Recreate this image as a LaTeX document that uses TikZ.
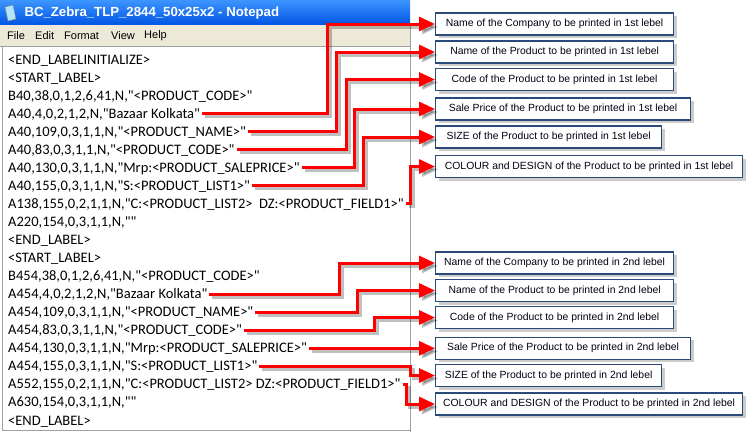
\documentclass[tikz,border=0pt]{standalone}
\usepackage{fontspec}
\setmainfont{Liberation Sans}
\newfontfamily\padfont{Carlito}
\usetikzlibrary{arrows.meta,shadows}
\definecolor{xpblue}{HTML}{0054E3}
\definecolor{xplight}{HTML}{3D95FF}
\definecolor{menubeige}{HTML}{ECE9D8}
\definecolor{framegray}{HTML}{A0A0A0}
\definecolor{boxblue}{HTML}{2A4A78}
\definecolor{leadred}{HTML}{FF0000}

\begin{document}
\begin{tikzpicture}[x=1pt,y=-1pt,
  pad/.style={anchor=west,inner xsep=2pt,inner ysep=0pt,text height=9pt,text depth=0pt,font=\padfont\fontsize{14.5}{14.5}\selectfont},
  menu/.style={anchor=west,inner sep=0pt,font=\fontsize{11}{11}\selectfont},
  callout/.style={anchor=west,draw=boxblue,line width=1.2pt,fill=white,minimum height=22pt,inner xsep=0pt,align=center,text=black!92!blue,font=\fontsize{10.4}{10.4}\selectfont,drop shadow={shadow xshift=3pt,shadow yshift=-3pt,opacity=.4}},
  lead/.style={leadred,line width=3pt,-{Triangle[length=16pt,width=14pt]}},
  ghost/.style={lead,black,opacity=.25,transform canvas={xshift=3pt,yshift=-3pt}}]
\useasboundingbox (0,0) rectangle (751,432);
\shade[top color=xplight,bottom color=xpblue] (0,0) rectangle (410,25);
\fill[menubeige] (0,25) rectangle (410,46);
\draw[framegray] (0,46.5) -- (410,46.5);
\draw[framegray] (2.5,47) -- (2.5,430) -- (410,430);
\draw[framegray] (410,25) -- (410,432);
\filldraw[fill=cyan!30,draw=gray] (5,7) -- (13,5) -- (16,19) -- (8,21) -- cycle;
\node[anchor=west,text=white,font=\bfseries\fontsize{13.2}{13.2}\selectfont] (title) at (21,13.5) {BC\_Zebra\_TLP\_2844\_50x25x2 - Notepad};
\node[menu] (file) at (7,36) {File};
\node[menu] (edit) at (35,36) {Edit};
\node[menu] (format) at (64,36) {Format};
\node[menu] (view) at (111,36) {View};
\node[menu] (help) at (144,36) {Help};

\node[pad] (t1) at (6,59.5) {<END\_LABELINITIALIZE>};
\node[pad] (t2) at (6,77.55) {<START\_LABEL>};
\node[pad] (t3) at (6,95.6) {B40,38,0,1,2,6,41,N,"<PRODUCT\_CODE>"};
\node[pad] (t4) at (6,113.65) {A40,4,0,2,1,2,N,"Bazaar Kolkata"};
\node[pad] (t5) at (6,131.7) {A40,109,0,3,1,1,N,"<PRODUCT\_NAME>"};
\node[pad] (t6) at (6,149.75) {A40,83,0,3,1,1,N,"<PRODUCT\_CODE>"};
\node[pad] (t7) at (6,167.8) {A40,130,0,3,1,1,N,"Mrp:<PRODUCT\_SALEPRICE>"};
\node[pad] (t8) at (6,185.85) {A40,155,0,3,1,1,N,"S:<PRODUCT\_LIST1>"};
\node[pad] (t9) at (6,203.9) {A138,155,0,2,1,1,N,"C:<PRODUCT\_LIST2> \ DZ:<PRODUCT\_FIELD1>"};
\node[pad] (t10) at (6,221.95) {A220,154,0,3,1,1,N,""};
\node[pad] (t11) at (6,240) {<END\_LABEL>};
\node[pad] (t12) at (6,258.05) {<START\_LABEL>};
\node[pad] (t13) at (6,276.1) {B454,38,0,1,2,6,41,N,"<PRODUCT\_CODE>"};
\node[pad] (t14) at (6,294.15) {A454,4,0,2,1,2,N,"Bazaar Kolkata"};
\node[pad] (t15) at (6,312.2) {A454,109,0,3,1,1,N,"<PRODUCT\_NAME>"};
\node[pad] (t16) at (6,330.25) {A454,83,0,3,1,1,N,"<PRODUCT\_CODE>"};
\node[pad] (t17) at (6,348.3) {A454,130,0,3,1,1,N,"Mrp:<PRODUCT\_SALEPRICE>"};
\node[pad] (t18) at (6,366.35) {A454,155,0,3,1,1,N,"S:<PRODUCT\_LIST1>"};
\node[pad] (t19) at (6,384.4) {A552,155,0,2,1,1,N,"C:<PRODUCT\_LIST2> DZ:<PRODUCT\_FIELD1>"};
\node[pad] (t20) at (6,402.45) {A630,154,0,3,1,1,N,""};
\node[pad] (t21) at (6,420.5) {<END\_LABEL>};

\node[callout,minimum width=238pt] (c1) at (435,24) {Name of the Company to be printed in 1st lebel};
\node[callout,minimum width=238pt] (c2) at (435,52) {Name of the Product to be printed in 1st lebel};
\node[callout,minimum width=238pt] (c3) at (435,79.5) {Code of the Product to be printed in 1st lebel};
\node[callout,minimum width=255pt] (c4) at (435,109) {Sale Price of the Product to be printed in 1st lebel};
\node[callout,minimum width=226pt] (c5) at (435,137) {SIZE of the Product to be printed in 1st lebel};
\node[callout,minimum width=307pt] (c6) at (435,166.5) {COLOUR and DESIGN of the Product to be printed in 1st lebel};
\node[callout,minimum width=238pt] (d1) at (435,263) {Name of the Company to be printed in 2nd lebel};
\node[callout,minimum width=238pt] (d2) at (435,290.5) {Name of the Product to be printed in 2nd lebel};
\node[callout,minimum width=238pt] (d3) at (435,317.5) {Code of the Product to be printed in 2nd lebel};
\node[callout,minimum width=255pt] (d4) at (435,348.3) {Sale Price of the Product to be printed in 2nd lebel};
\node[callout,minimum width=226pt] (d5) at (435,375.5) {SIZE of the Product to be printed in 2nd lebel};
\node[callout,minimum width=307pt] (d6) at (435,404) {COLOUR and DESIGN of the Product to be printed in 2nd lebel};

\coordinate (k1) at (327,0);
\coordinate (k2) at (336,0);
\coordinate (k3) at (346,0);
\coordinate (k4) at (354,0);
\coordinate (k5) at (363,0);
\coordinate (k6) at (410,0);
\coordinate (m1) at (339,0);
\coordinate (m2) at (357,0);
\coordinate (m3) at (374,0);
\coordinate (m5) at (410,0);
\coordinate (m6) at (406,0);
\foreach \s in {ghost,lead} {
  \draw[\s] (t4.east) -| (k1 |- c1.west) -- (c1.west);
  \draw[\s] (t5.east) -| (k2 |- c2.west) -- (c2.west);
  \draw[\s] (t6.east) -| (k3 |- c3.west) -- (c3.west);
  \draw[\s] (t7.east) -| (k4 |- c4.west) -- (c4.west);
  \draw[\s] (t8.east) -| (k5 |- c5.west) -- (c5.west);
  \draw[\s] (t9.east) -| (k6 |- c6.west) -- (c6.west);
  \draw[\s] (t14.east) -| (m1 |- d1.west) -- (d1.west);
  \draw[\s] (t15.east) -| (m2 |- d2.west) -- (d2.west);
  \draw[\s] (t16.east) -| (m3 |- d3.west) -- (d3.west);
  \draw[\s] (t17.east) -- (d4.west);
  \draw[\s] (t18.east) -| (m5 |- d5.west) -- (d5.west);
  \draw[\s] (t19.east) -| (m6 |- d6.west) -- (d6.west);
}
\end{tikzpicture}
\end{document}
